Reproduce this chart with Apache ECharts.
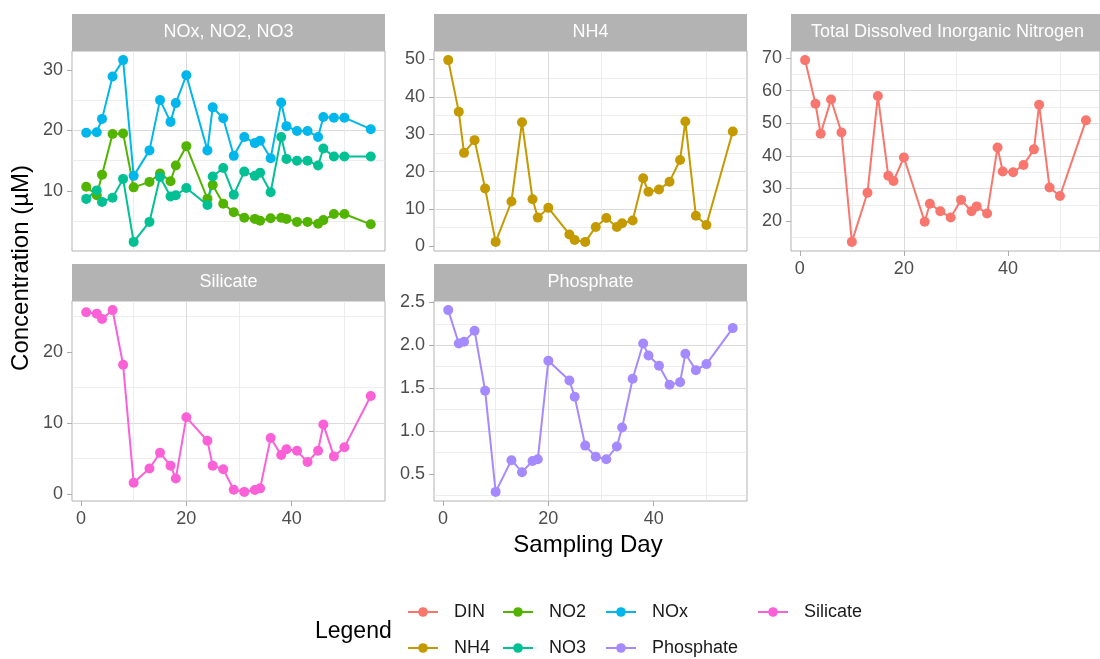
<!DOCTYPE html>
<html>
<head>
<meta charset="utf-8">
<title>Nutrient concentrations by sampling day</title>
<script src="https://cdn.jsdelivr.net/npm/echarts@6.0.0/dist/echarts.min.js"></script>
<style>
  html, body { margin: 0; padding: 0; background: #fff; }
  #chart { width: 1100px; height: 659px; }
</style>
</head>
<body>
<div id="chart"></div>
<script>
  // sampling days (shared by every series)
  const days = [1, 3, 4, 6, 8, 10, 13, 15, 17, 18, 20, 24, 25, 27, 29, 31, 33, 34, 36, 38, 39, 41, 43, 45, 46, 48, 50, 55];

  // concentrations (uM)
  const din = [69.4, 56.0, 46.8, 57.3, 47.2, 13.6, 28.7, 58.4, 33.9, 32.3, 39.5, 19.8, 25.3, 23.0, 21.1, 26.5, 23.0, 24.5, 22.3, 42.6, 35.2, 35.0, 37.2, 42.0, 55.7, 30.3, 27.7, 50.9];
  const nh4 = [49.8, 36.0, 25.0, 28.4, 15.5, 1.2, 12.0, 33.2, 12.6, 7.7, 10.3, 3.2, 1.7, 1.2, 5.2, 7.6, 5.2, 6.2, 6.9, 18.2, 14.6, 15.2, 17.3, 23.1, 33.4, 8.2, 5.7, 30.7];
  const nox = [19.6, 19.7, 21.9, 28.9, 31.6, 12.5, 16.7, 25.0, 21.4, 24.5, 29.1, 16.7, 23.8, 22.0, 15.8, 18.9, 17.9, 18.3, 15.4, 24.6, 20.7, 19.9, 19.9, 18.9, 22.2, 22.1, 22.1, 20.2];
  const no2 = [10.7, 9.3, 12.7, 19.4, 19.5, 10.6, 11.5, 12.9, 11.6, 14.2, 17.4, 8.7, 11.0, 7.9, 6.5, 5.6, 5.4, 5.1, 5.5, 5.6, 5.4, 4.9, 4.9, 4.6, 5.2, 6.2, 6.2, 4.5];
  const no3 = [8.7, 10.1, 8.2, 8.9, 12.0, 1.6, 4.9, 12.3, 9.1, 9.3, 10.5, 7.7, 12.4, 13.8, 9.4, 13.2, 12.5, 13.0, 9.8, 18.9, 15.3, 15.0, 15.0, 14.2, 17.0, 15.7, 15.7, 15.7];
  const phosphate = [2.41, 2.02, 2.04, 2.17, 1.47, 0.29, 0.66, 0.52, 0.65, 0.67, 1.82, 1.59, 1.40, 0.83, 0.70, 0.67, 0.82, 1.04, 1.61, 2.02, 1.88, 1.76, 1.54, 1.57, 1.90, 1.71, 1.78, 2.20];
  const silicate = [25.6, 25.4, 24.65, 25.9, 18.2, 1.6, 3.6, 5.8, 4.0, 2.2, 10.8, 7.5, 4.0, 3.5, 0.6, 0.3, 0.56, 0.8, 7.9, 5.5, 6.3, 6.1, 4.5, 6.1, 9.8, 5.3, 6.6, 13.8];

  // tick labels
  const dayTicks = [0, 20, 40];
  const noxTicks = [10, 20, 30];
  const nh4Ticks = [0, 10, 20, 30, 40, 50];
  const dinTicks = [20, 30, 40, 50, 60, 70];
  const silicateTicks = [0, 10, 20];
  const phosphateTicks = [0.5, 1.0, 1.5, 2.0, 2.5];

  const values = { DIN: din, NH4: nh4, NO2: no2, NO3: no3, NOx: nox, Phosphate: phosphate, Silicate: silicate };
  const colors = {
    DIN: '#F8766D', NH4: '#C49A00', NO2: '#53B400', NO3: '#00C094',
    NOx: '#00B6EB', Phosphate: '#A58AFF', Silicate: '#FB61D7'
  };

  const FONT = '"Liberation Sans", Arial, sans-serif';
  const STRIP_H = 37;

  const panels = [
    { title: 'NOx, NO2, NO3', left: 72, top: 51, width: 313, ticks: noxTicks, showX: false, names: ['NO2', 'NO3', 'NOx'] },
    { title: 'NH4', left: 434, top: 51, width: 313, ticks: nh4Ticks, showX: false, names: ['NH4'] },
    { title: 'Total Dissolved Inorganic Nitrogen', left: 791, top: 51, width: 313, ticks: dinTicks, showX: true, names: ['DIN'] },
    { title: 'Silicate', left: 72, top: 301, width: 313, ticks: silicateTicks, showX: true, names: ['Silicate'] },
    { title: 'Phosphate', left: 434, top: 301, width: 313, ticks: phosphateTicks, showX: true, names: ['Phosphate'] }
  ];

  // ggplot-style 5% padding around the data range
  function padded(arrs) {
    const all = [].concat(...arrs);
    const lo = Math.min(...all);
    const hi = Math.max(...all);
    const pad = (hi - lo) * 0.05;
    return [lo - pad, hi + pad];
  }

  const xr = padded([days]);
  const gridLine = { show: true, showMinLine: false, showMaxLine: false, lineStyle: { color: '#DBDBDB', width: 1 } };
  const minorLine = { show: true, lineStyle: { color: '#E8E8E8', width: 0.8 } };

  const grids = [], xAxes = [], yAxes = [], series = [], graphics = [];

  panels.forEach((p, i) => {
    grids.push({ left: p.left, top: p.top, width: p.width, height: 200, show: true, borderColor: '#B3B3B3', borderWidth: 1, backgroundColor: '#fff' });

    const xStep = dayTicks[1] - dayTicks[0];
    xAxes.push({
      type: 'value', gridIndex: i, position: 'bottom', min: xr[0], max: xr[1], minInterval: xStep, maxInterval: xStep,
      axisLine: { show: false, onZero: false },
      axisTick: { show: p.showX, length: 5, customValues: dayTicks, lineStyle: { color: '#ABABAB' } },
      axisLabel: { show: p.showX, customValues: dayTicks, margin: 9, color: '#4D4D4D', fontSize: 18, fontFamily: FONT },
      splitLine: gridLine,
      minorTick: { show: false, splitNumber: 2 },
      minorSplitLine: minorLine
    });

    const yr = padded(p.names.map(n => values[n]));
    const yStep = p.ticks[1] - p.ticks[0];
    const decimals = yStep < 1 ? 1 : 0;
    yAxes.push({
      type: 'value', gridIndex: i, position: 'left', min: yr[0], max: yr[1], minInterval: yStep, maxInterval: yStep,
      axisLine: { show: false, onZero: false },
      axisTick: { show: true, length: 5, customValues: p.ticks, lineStyle: { color: '#ABABAB' } },
      axisLabel: {
        customValues: p.ticks, margin: 9, color: '#4D4D4D', fontSize: 18, fontFamily: FONT,
        formatter: v => v.toFixed(decimals)
      },
      splitLine: gridLine,
      minorTick: { show: false, splitNumber: 2 },
      minorSplitLine: minorLine
    });

    p.names.forEach(n => {
      series.push({
        name: n, type: 'line', xAxisIndex: i, yAxisIndex: i,
        data: days.map((d, j) => [d, values[n][j]]),
        symbol: 'circle', symbolSize: 10, showSymbol: true,
        lineStyle: { width: 2, color: colors[n] },
        itemStyle: { color: colors[n] },
        emphasis: { disabled: true }
      });
    });

    // facet strip
    graphics.push({
      type: 'rect', silent: true,
      shape: { x: p.left, y: p.top - STRIP_H, width: p.width, height: STRIP_H },
      style: { fill: '#B3B3B3' }
    });
    graphics.push({
      type: 'text', silent: true, x: p.left + p.width / 2, y: p.top - STRIP_H / 2,
      style: { text: p.title, fill: '#fff', font: '18px ' + FONT, align: 'center', verticalAlign: 'middle' }
    });
  });

  // axis titles and legend title
  graphics.push({
    type: 'text', silent: true, x: 21, y: 268, rotation: Math.PI / 2,
    style: { text: 'Concentration (µM)', fill: '#000', font: '24px ' + FONT, align: 'center', verticalAlign: 'middle' }
  });
  graphics.push({
    type: 'text', silent: true, x: 588, y: 545,
    style: { text: 'Sampling Day', fill: '#000', font: '24px ' + FONT, align: 'center', verticalAlign: 'middle' }
  });
  graphics.push({
    type: 'text', silent: true, x: 315, y: 632,
    style: { text: 'Legend', fill: '#000', font: '23px ' + FONT, align: 'left', verticalAlign: 'middle' }
  });

  const legendCols = [['DIN', 'NH4'], ['NO2', 'NO3'], ['NOx', 'Phosphate'], ['Silicate']];
  const legendLeft = [407, 502, 605, 757];
  const legends = legendCols.map((names, k) => ({
    data: names, orient: 'vertical', left: legendLeft[k], top: 603,
    itemWidth: 30, itemHeight: 12, itemGap: 18, selectedMode: false, padding: 0,
    textStyle: { fontSize: 18, fontFamily: FONT, color: '#1A1A1A', padding: [0, 0, 0, 11] }
  }));

  const chart = echarts.init(document.getElementById('chart'));
  chart.setOption({
    animation: false,
    backgroundColor: '#fff',
    grid: grids,
    xAxis: xAxes,
    yAxis: yAxes,
    legend: legends,
    graphic: graphics,
    series: series
  });
</script>
</body>
</html>
